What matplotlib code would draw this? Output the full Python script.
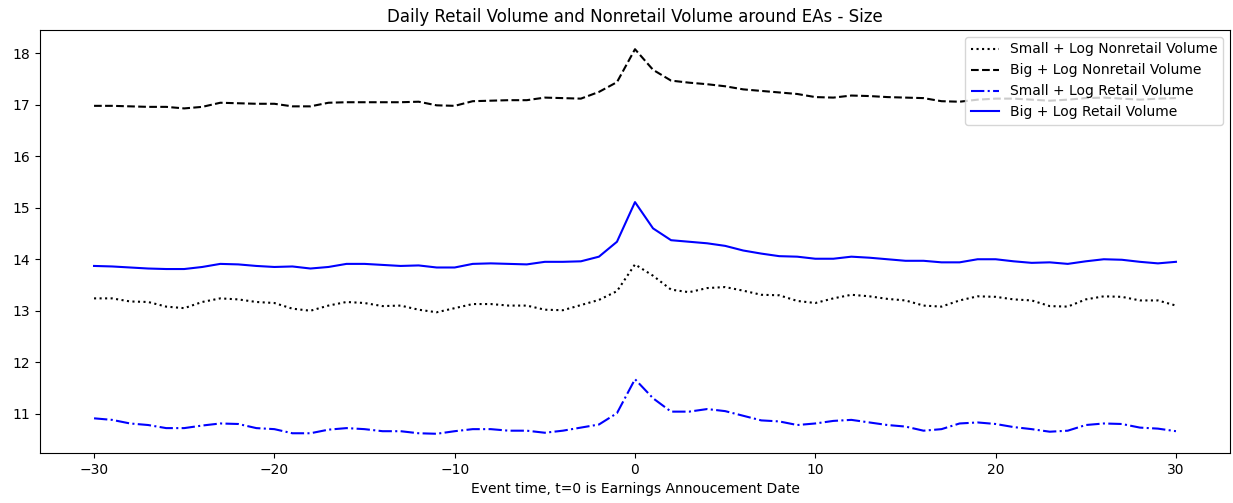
import matplotlib
matplotlib.use("Agg")
import matplotlib.pyplot as plt
import numpy as np

event_time = np.arange(-30, 31)

small_nonretail = [13.24, 13.24, 13.18, 13.17, 13.08, 13.05, 13.17, 13.24, 13.22, 13.17,
                   13.15, 13.04, 13.00, 13.10, 13.17, 13.15, 13.09, 13.10, 13.02, 12.97,
                   13.05, 13.13, 13.13, 13.10, 13.10, 13.02, 13.01, 13.11, 13.21, 13.38,
                   13.90, 13.68, 13.41, 13.36, 13.44, 13.46, 13.39, 13.31, 13.30, 13.19,
                   13.15, 13.24, 13.31, 13.28, 13.23, 13.20, 13.10, 13.08, 13.20, 13.28,
                   13.27, 13.22, 13.20, 13.09, 13.08, 13.22, 13.28, 13.27, 13.20, 13.20,
                   13.10]
big_nonretail = [16.98, 16.98, 16.97, 16.96, 16.96, 16.93, 16.96, 17.04, 17.03, 17.02,
                 17.02, 16.97, 16.97, 17.04, 17.05, 17.05, 17.05, 17.05, 17.06, 16.99,
                 16.98, 17.07, 17.08, 17.09, 17.09, 17.14, 17.13, 17.12, 17.25, 17.44,
                 18.08, 17.68, 17.47, 17.43, 17.40, 17.36, 17.30, 17.27, 17.24, 17.21,
                 17.15, 17.14, 17.18, 17.17, 17.15, 17.14, 17.13, 17.07, 17.06, 17.10,
                 17.12, 17.12, 17.10, 17.08, 17.10, 17.13, 17.14, 17.12, 17.10, 17.12,
                 17.13]
small_retail = [10.91, 10.88, 10.81, 10.78, 10.72, 10.72, 10.77, 10.81, 10.80, 10.72,
                10.70, 10.62, 10.62, 10.69, 10.72, 10.70, 10.66, 10.66, 10.62, 10.61,
                10.66, 10.70, 10.70, 10.67, 10.67, 10.63, 10.67, 10.73, 10.79, 11.01,
                11.67, 11.30, 11.04, 11.04, 11.09, 11.05, 10.96, 10.87, 10.85, 10.78,
                10.81, 10.86, 10.88, 10.83, 10.78, 10.75, 10.67, 10.70, 10.81, 10.83,
                10.80, 10.74, 10.70, 10.65, 10.67, 10.78, 10.81, 10.80, 10.73, 10.71,
                10.66]
big_retail = [13.87, 13.86, 13.84, 13.82, 13.81, 13.81, 13.85, 13.91, 13.90, 13.87,
              13.85, 13.86, 13.82, 13.85, 13.91, 13.91, 13.89, 13.87, 13.88, 13.84,
              13.84, 13.91, 13.92, 13.91, 13.90, 13.95, 13.95, 13.96, 14.05, 14.34,
              15.11, 14.60, 14.37, 14.34, 14.31, 14.26, 14.17, 14.11, 14.06, 14.05,
              14.01, 14.01, 14.05, 14.03, 14.00, 13.97, 13.97, 13.94, 13.94, 14.00,
              14.00, 13.96, 13.93, 13.94, 13.91, 13.96, 14.00, 13.99, 13.95, 13.92,
              13.95]

fig = plt.figure(figsize=(12.33, 5.03), dpi=100)
# axes box placed to match the reference frame (left 40px, top 30px, bottom 453px)
ax = fig.add_axes([0.0324, 0.0994, 0.9652, 0.841])

ax.plot(event_time, small_nonretail, color='black', linestyle=':', label='Small + Log Nonretail Volume')
ax.plot(event_time, big_nonretail, color='black', linestyle='--', label='Big + Log Nonretail Volume')
ax.plot(event_time, small_retail, color='blue', linestyle='-.', label='Small + Log Retail Volume')
ax.plot(event_time, big_retail, color='blue', linestyle='-', label='Big + Log Retail Volume')

ax.set_title('Daily Retail Volume and Nonretail Volume around EAs - Size')
ax.set_xlabel('Event time, t=0 is Earnings Annoucement Date')
ax.legend(loc='upper right')

plt.savefig('out.png', dpi=100)
